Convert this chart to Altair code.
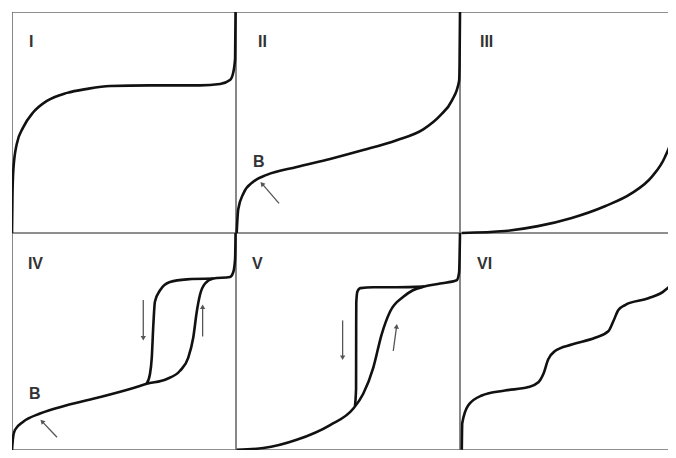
import math
import altair as alt
import pandas as pd

# ---- panel layout (row 0 = top row, row 1 = bottom row) ----
PANEL_COL = [0, 1, 2, 0, 1, 2]
PANEL_ROW = [0, 0, 0, 1, 1, 1]
PLOT_W = 656
PLOT_H = 438
TOP_SCALE = 224 / 220          # top row is a little taller than the bottom row
PX_X = 2.24                    # pixels per local unit (x)
Y_MAX = 100 + 100 * TOP_SCALE
PX_Y_BOT = PLOT_H / Y_MAX
PX_Y = [PX_Y_BOT * TOP_SCALE, PX_Y_BOT]

# ---- isotherm curves, local units 0..100 inside each panel ----
I_x = [0, 0.2, 0.6, 2.1, 5.0, 9.4, 15.6, 24.6, 33.5, 43.8, 61.6, 83.9, 92.9, 97.3, 98.7, 99.6, 99.8]
I_y = [0, 16.5, 28.6, 40.2, 47.8, 54.5, 59.8, 63.4, 65.2, 66.5, 66.8, 66.8, 67.4, 69.2, 72.3, 79, 100]

II_x = [0.3, 1.0, 3.3, 7.7, 13.7, 27.1, 42, 56.8, 71.7, 83.6, 91.1, 96.3, 99.6, 99.8, 100]
II_y = [0, 10.7, 17.9, 23.2, 26.3, 29.9, 33.5, 37.5, 42, 46.9, 53.1, 59.8, 68.8, 76, 100]

III_x = [0.8, 20.1, 34.8, 49.9, 64.7, 76.7, 85.6, 91.5, 95.2, 96.4, 98.2, 100]
III_y = [0, 0.9, 3.1, 6.8, 12.1, 18, 25.4, 34.4, 44.8, 50.9, 61, 80]

IVa_x = [0, 0.45, 1.3, 5.0, 12.5, 24.4, 39.3, 54.2, 60.1, 69.1, 75, 78.7, 80.9, 82.5, 83.9, 86.2, 89.9, 97.3, 98.8, 99.6, 99.8]
IVa_y = [0, 5.5, 9.2, 13, 16.8, 20.6, 24.4, 28.6, 30.5, 32.7, 36.5, 42.6, 51.7, 63.8, 71.4, 76.7, 79, 79.7, 82, 88.2, 100]
IVd_x = [60.1, 61.6, 62.4, 63.1, 63.8, 66.1, 70.5, 78, 89.9]
IVd_y = [30.5, 35, 42.6, 57.7, 68.3, 73.6, 77.4, 78.6, 79]

Va_x = [0.3, 12.2, 27.1, 42, 52.4, 56.8, 61.3, 65, 68.8, 74.7, 79, 84, 91.1, 98.5, 99.6, 100]
Va_y = [0.1, 0.9, 4.7, 11.5, 19.1, 25.9, 38, 53.2, 63.8, 70.6, 73.6, 75.3, 76.7, 78.2, 81.8, 100]
Vd_x = [53.1, 53.6, 53.65, 53.7, 54.2, 55.5, 61.3, 71.7, 84]
Vd_y = [20.3, 28.2, 57.7, 68, 73, 74.6, 75.0, 75.0, 75.3]

VI_x = [0.8, 1.0, 3.7, 9.7, 20.1, 30.5, 35, 37.2, 39.4, 42.4, 49.9, 60.3, 66.2, 68.4, 70.7, 73.7, 84.1, 91.5, 96, 98.2]
VI_y = [0.1, 12.3, 20.6, 25.1, 27.4, 29, 31.2, 35, 41.8, 45.6, 48.6, 51.7, 54.7, 59.2, 64.5, 66.8, 69.9, 73.6, 79, 85]

CURVES = [
    ("I", 0, I_x, I_y),
    ("II", 1, II_x, II_y),
    ("III", 2, III_x, III_y),
    ("IV-ads", 3, IVa_x, IVa_y),
    ("IV-des", 3, IVd_x, IVd_y),
    ("V-ads", 4, Va_x, Va_y),
    ("V-des", 4, Vd_x, Vd_y),
    ("VI", 5, VI_x, VI_y),
]

# ---- annotations ----
LABEL_TEXT = ["I", "II", "III", "IV", "V", "VI", "B", "B"]
LABEL_PANEL = [0, 1, 2, 3, 4, 5, 1, 3]
LABEL_X = [7.6, 9.8, 8.9, 7.1, 7.1, 7.6, 7.6, 7.6]
LABEL_Y = [86.6, 86.6, 86.6, 85.5, 85.5, 85.5, 32.1, 25.9]

# arrows: panel, tail (x, y), head (x, y)
ARROW_PANEL = [1, 3, 3, 3, 4, 4]
ARROW_X1 = [19.2, 20.1, 58.6, 85.1, 47.6, 70.2]
ARROW_Y1 = [13.4, 5.9, 69.1, 52.3, 59.7, 45.6]
ARROW_X2 = [11.6, 13.4, 58.6, 85.1, 47.6, 71.7]
ARROW_Y2 = [22.3, 13.2, 51.5, 66.0, 42.5, 57.0]


def gx(panel, lx):
    return PANEL_COL[panel] * 100 + lx


def gy(panel, ly):
    return ly if PANEL_ROW[panel] == 1 else 100 + ly * TOP_SCALE


X_MAX = PLOT_W / PX_X

rows = []
for name, p, xs, ys in CURVES:
    for i, (lx, ly) in enumerate(zip(xs, ys)):
        rows.append({"curve": name, "i": i, "gx": gx(p, lx), "gy": gy(p, ly)})
curves_df = pd.DataFrame(rows)

borders_df = pd.DataFrame(
    [{"x": v, "x2": v, "y": 0, "y2": Y_MAX} for v in [0, 100, 200]]
    + [{"x": 0, "x2": X_MAX, "y": v, "y2": v} for v in [0, 100, Y_MAX]]
)

labels_df = pd.DataFrame({
    "text": LABEL_TEXT,
    "gx": [gx(p, x) for p, x in zip(LABEL_PANEL, LABEL_X)],
    "gy": [gy(p, y) for p, y in zip(LABEL_PANEL, LABEL_Y)],
})

arrow_rows = []
for p, x1, y1, x2, y2 in zip(ARROW_PANEL, ARROW_X1, ARROW_Y1, ARROW_X2, ARROW_Y2):
    dxp = (x2 - x1) * PX_X
    dyp = (y2 - y1) * PX_Y[PANEL_ROW[p]]
    ang = math.degrees(math.atan2(dxp, dyp)) % 360
    arrow_rows.append({"x": gx(p, x1), "y": gy(p, y1), "x2": gx(p, x2), "y2": gy(p, y2), "angle": ang})
arrows_df = pd.DataFrame(arrow_rows)

xs = alt.Scale(domain=[0, X_MAX], nice=False, zero=False)
ys = alt.Scale(domain=[0, Y_MAX], nice=False, zero=False)

borders = alt.Chart(borders_df).mark_rule(color="#6a6a6a", strokeWidth=1.6, clip=True).encode(
    x=alt.X("x:Q", scale=xs, axis=None), x2="x2:Q",
    y=alt.Y("y:Q", scale=ys, axis=None), y2="y2:Q",
)

lines = alt.Chart(curves_df).mark_line(
    color="#111111", strokeWidth=2.6, interpolate="monotone", clip=True
).encode(
    x=alt.X("gx:Q", scale=xs, axis=None),
    y=alt.Y("gy:Q", scale=ys, axis=None),
    detail="curve:N",
    order="i:Q",
)

shafts = alt.Chart(arrows_df).mark_rule(color="#555555", strokeWidth=1.3).encode(
    x=alt.X("x:Q", scale=xs, axis=None), x2="x2:Q",
    y=alt.Y("y:Q", scale=ys, axis=None), y2="y2:Q",
)

heads = alt.Chart(arrows_df).mark_point(
    shape="triangle-up", filled=True, color="#555555", size=28, opacity=1
).encode(
    x=alt.X("x2:Q", scale=xs, axis=None),
    y=alt.Y("y2:Q", scale=ys, axis=None),
    angle=alt.Angle("angle:Q", scale=None),
)

texts = alt.Chart(labels_df).mark_text(
    align="left", baseline="middle", fontSize=16, fontWeight="bold",
    font="Liberation Sans", color="#333333"
).encode(
    x=alt.X("gx:Q", scale=xs, axis=None),
    y=alt.Y("gy:Q", scale=ys, axis=None),
    text="text:N",
)

chart = alt.layer(borders, lines, shafts, heads, texts).properties(
    width=PLOT_W,
    height=PLOT_H,
    padding={"left": 4, "top": 4, "right": 0, "bottom": 0},
    autosize=alt.AutoSizeParams(type="none"),
    background="white",
).configure_view(stroke=None)

chart.save("out.html", embed_options={"renderer": "svg", "actions": False})
